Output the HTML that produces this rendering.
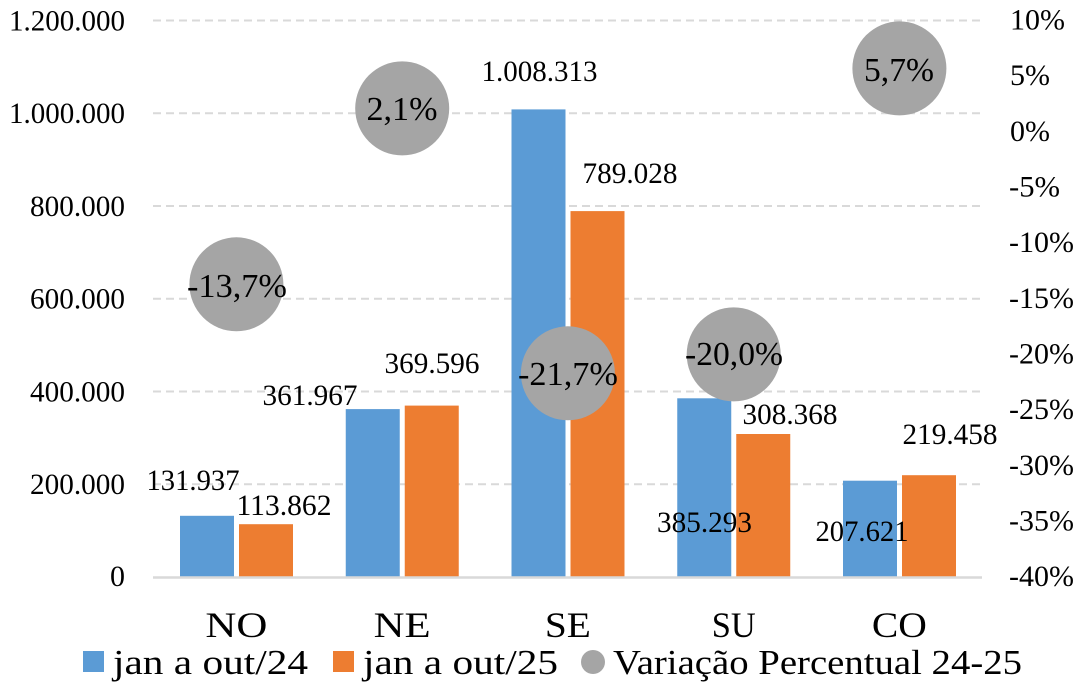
<!DOCTYPE html>
<html>
<head>
<meta charset="utf-8">
<style>
  html,body{margin:0;padding:0;background:#ffffff;}
  svg{display:block;}
  text{font-family:"Liberation Serif","DejaVu Serif",serif;fill:#000;}
</style>
</head>
<body>
<svg width="1091" height="695" viewBox="0 0 1091 695" xmlns="http://www.w3.org/2000/svg">
  <rect x="0" y="0" width="1091" height="695" fill="#ffffff"/>

  <!-- gridlines -->
  <g stroke="#d9d9d9" stroke-width="2" stroke-dasharray="8,5" fill="none">
    <line x1="153" y1="20.5" x2="982" y2="20.5"/>
    <line x1="153" y1="113.25" x2="982" y2="113.25"/>
    <line x1="153" y1="206" x2="982" y2="206"/>
    <line x1="153" y1="298.75" x2="982" y2="298.75"/>
    <line x1="153" y1="391.5" x2="982" y2="391.5"/>
    <line x1="153" y1="484.25" x2="982" y2="484.25"/>
  </g>

  <!-- left axis labels -->
  <g font-size="30" text-anchor="end">
    <text x="125" y="30.5" textLength="116" lengthAdjust="spacingAndGlyphs">1.200.000</text>
    <text x="125" y="123" textLength="116" lengthAdjust="spacingAndGlyphs">1.000.000</text>
    <text x="125" y="216" textLength="95" lengthAdjust="spacingAndGlyphs">800.000</text>
    <text x="125" y="308.5" textLength="95" lengthAdjust="spacingAndGlyphs">600.000</text>
    <text x="125" y="401.5" textLength="95" lengthAdjust="spacingAndGlyphs">400.000</text>
    <text x="125" y="494" textLength="95" lengthAdjust="spacingAndGlyphs">200.000</text>
    <text x="125" y="586">0</text>
  </g>

  <!-- right axis labels -->
  <g font-size="30" text-anchor="start">
    <text x="1010" y="29.5" textLength="55" lengthAdjust="spacingAndGlyphs">10%</text>
    <text x="1010" y="85" textLength="40" lengthAdjust="spacingAndGlyphs">5%</text>
    <text x="1010" y="141" textLength="40" lengthAdjust="spacingAndGlyphs">0%</text>
    <text x="1009" y="196.5" textLength="51" lengthAdjust="spacingAndGlyphs">-5%</text>
    <text x="1009" y="252" textLength="65" lengthAdjust="spacingAndGlyphs">-10%</text>
    <text x="1009" y="308" textLength="65" lengthAdjust="spacingAndGlyphs">-15%</text>
    <text x="1009" y="363.5" textLength="65" lengthAdjust="spacingAndGlyphs">-20%</text>
    <text x="1009" y="419" textLength="65" lengthAdjust="spacingAndGlyphs">-25%</text>
    <text x="1009" y="475" textLength="65" lengthAdjust="spacingAndGlyphs">-30%</text>
    <text x="1009" y="530.5" textLength="65" lengthAdjust="spacingAndGlyphs">-35%</text>
    <text x="1009" y="586" textLength="65" lengthAdjust="spacingAndGlyphs">-40%</text>
  </g>

  <!-- bars -->
  <g fill="#5b9bd5">
    <rect x="180" y="515.8" width="54" height="61.2"/>
    <rect x="345.75" y="409.1" width="54" height="167.9"/>
    <rect x="511.5" y="109.4" width="54" height="467.6"/>
    <rect x="677.25" y="398.3" width="54" height="178.7"/>
    <rect x="843" y="480.7" width="54" height="96.3"/>
  </g>
  <g fill="#ed7d31">
    <rect x="239" y="524.2" width="54" height="52.8"/>
    <rect x="404.75" y="405.6" width="54" height="171.4"/>
    <rect x="570.5" y="211.1" width="54" height="365.9"/>
    <rect x="736.25" y="434" width="54" height="143"/>
    <rect x="902" y="475.2" width="54" height="101.8"/>
  </g>

  <!-- baseline -->
  <line x1="153" y1="577.5" x2="982" y2="577.5" stroke="#d9d9d9" stroke-width="2.5"/>

  <!-- data labels -->
  <g font-size="30" text-anchor="middle">
    <text x="193" y="490" textLength="93" lengthAdjust="spacingAndGlyphs">131.937</text>
    <text x="284" y="515" textLength="95" lengthAdjust="spacingAndGlyphs">113.862</text>
    <text x="310" y="405" textLength="95" lengthAdjust="spacingAndGlyphs">361.967</text>
    <text x="432" y="373" textLength="95" lengthAdjust="spacingAndGlyphs">369.596</text>
    <text x="539.5" y="81" textLength="116" lengthAdjust="spacingAndGlyphs">1.008.313</text>
    <text x="630" y="183" textLength="95" lengthAdjust="spacingAndGlyphs">789.028</text>
    <text x="704.5" y="532" textLength="95" lengthAdjust="spacingAndGlyphs">385.293</text>
    <text x="790" y="424" textLength="95" lengthAdjust="spacingAndGlyphs">308.368</text>
    <text x="862" y="541" textLength="93" lengthAdjust="spacingAndGlyphs">207.621</text>
    <text x="950" y="444" textLength="95" lengthAdjust="spacingAndGlyphs">219.458</text>
  </g>

  <!-- percentage bubbles -->
  <g fill="#a5a5a5">
    <circle cx="236.4" cy="284.3" r="47"/>
    <circle cx="402.2" cy="108.4" r="47"/>
    <circle cx="567.9" cy="373.3" r="47"/>
    <circle cx="733.7" cy="354.4" r="47"/>
    <circle cx="899.4" cy="68.4" r="47"/>
  </g>
  <g font-size="34" text-anchor="middle">
    <text x="237" y="297" textLength="100" lengthAdjust="spacingAndGlyphs">-13,7%</text>
    <text x="402" y="120" textLength="71" lengthAdjust="spacingAndGlyphs">2,1%</text>
    <text x="568" y="385" textLength="100" lengthAdjust="spacingAndGlyphs">-21,7%</text>
    <text x="734" y="365" textLength="98" lengthAdjust="spacingAndGlyphs">-20,0%</text>
    <text x="899" y="81" textLength="70" lengthAdjust="spacingAndGlyphs">5,7%</text>
  </g>

  <!-- category labels -->
  <g font-size="36" text-anchor="middle">
    <text x="236.4" y="637" textLength="62" lengthAdjust="spacingAndGlyphs">NO</text>
    <text x="402.2" y="637" textLength="57" lengthAdjust="spacingAndGlyphs">NE</text>
    <text x="567.9" y="637" textLength="46" lengthAdjust="spacingAndGlyphs">SE</text>
    <text x="733.7" y="637" textLength="44" lengthAdjust="spacingAndGlyphs">SU</text>
    <text x="899.4" y="637" textLength="55" lengthAdjust="spacingAndGlyphs">CO</text>
  </g>

  <!-- legend -->
  <rect x="83" y="651" width="21" height="21" fill="#5b9bd5"/>
  <text x="113" y="674" font-size="35" textLength="195" lengthAdjust="spacingAndGlyphs">jan a out/24</text>
  <rect x="333" y="651" width="21" height="21" fill="#ed7d31"/>
  <text x="363" y="674" font-size="35" textLength="195" lengthAdjust="spacingAndGlyphs">jan a out/25</text>
  <circle cx="593" cy="662" r="12" fill="#a5a5a5"/>
  <text x="613" y="674" font-size="35" textLength="409" lengthAdjust="spacingAndGlyphs">Variação Percentual 24-25</text>
</svg>
</body>
</html>
